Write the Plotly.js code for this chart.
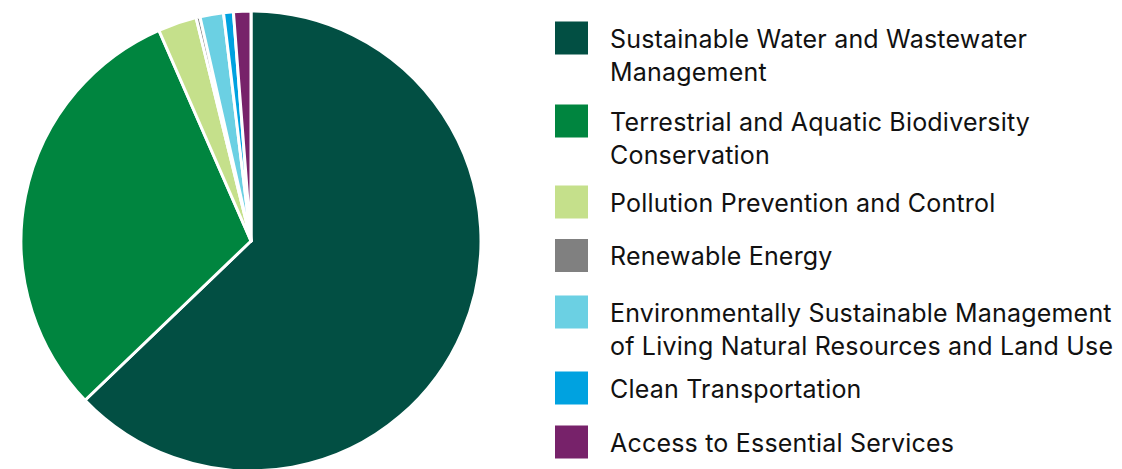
<!DOCTYPE html>
<html>
<head>
<meta charset="utf-8">
<script src="https://cdn.plot.ly/plotly-3.0.1.min.js"></script>
<style>
  html, body { margin: 0; padding: 0; overflow: hidden; background: #fff; }
  #chart { width: 1122px; height: 482px; }
</style>
</head>
<body>
<div id="chart"></div>
<script>
// ---- data ----
const categories = [
  "Sustainable Water and Wastewater Management",
  "Terrestrial and Aquatic Biodiversity Conservation",
  "Pollution Prevention and Control",
  "Renewable Energy",
  "Environmentally Sustainable Management of Living Natural Resources and Land Use",
  "Clean Transportation",
  "Access to Essential Services"
];
const legendLabels = [
  "Sustainable Water and Wastewater<br>Management",
  "Terrestrial and Aquatic Biodiversity<br>Conservation",
  "Pollution Prevention and Control",
  "Renewable Energy",
  "Environmentally Sustainable Management<br>of Living Natural Resources and Land Use",
  "Clean Transportation",
  "Access to Essential Services"
];
const shares = [62.83, 30.61, 2.72, 0.28, 1.65, 0.69, 1.22];
const colors = ["#024f43", "#00853f", "#c5e08b", "#808080", "#6bd0e3", "#00a2e0", "#77226a"];

// ---- layout geometry (pixels) ----
const W = 1122, H = 482, M_T = 11, M_B = 11;
const plotH = H - M_T - M_B;
const pieCenterX = 251;
const sqLeft = 555, sqSize = 33, textLeft = 608;
const itemCenters = [38, 121, 202, 255.5, 312, 388, 442];
const fontSize = 25;
const lineH = fontSize * 1.3;

const px2x = p => p / W;
const py2y = p => 1 - (p - M_T) / plotH;

const shapes = categories.map((c, i) => ({
  type: "rect", xref: "paper", yref: "paper",
  x0: px2x(sqLeft), x1: px2x(sqLeft + sqSize),
  y0: py2y(itemCenters[i] - sqSize / 2), y1: py2y(itemCenters[i] + sqSize / 2),
  fillcolor: colors[i], line: { width: 0 }
}));

const annotations = legendLabels.map((t, i) => ({
  text: t.split("<br>").map(s => '<span style="letter-spacing:0.2px">' + s + '</span>').join("<br>"),
  xref: "paper", yref: "paper",
  x: px2x(textLeft), xanchor: "left", align: "left",
  y: py2y(itemCenters[i] - lineH / 2), yanchor: "top",
  showarrow: false,
  font: { family: "Inter, 'Noto Sans', sans-serif", size: fontSize, color: "#111" }
}));

const trace = {
  type: "pie",
  labels: categories,
  values: shares,
  sort: false,
  direction: "clockwise",
  rotation: 0,
  textinfo: "none",
  hoverinfo: "label+percent",
  marker: { colors: colors, line: { color: "#ffffff", width: 3 } },
  domain: { x: [0, (pieCenterX * 2) / W], y: [0, 1] },
  showlegend: false
};

const layout = {
  width: W, height: H,
  margin: { l: 0, r: 0, t: M_T, b: M_B, pad: 0 },
  paper_bgcolor: "#ffffff",
  plot_bgcolor: "#ffffff",
  showlegend: false,
  shapes: shapes,
  annotations: annotations
};

Plotly.newPlot("chart", [trace], layout, { displayModeBar: false, staticPlot: true });
</script>
</body>
</html>
